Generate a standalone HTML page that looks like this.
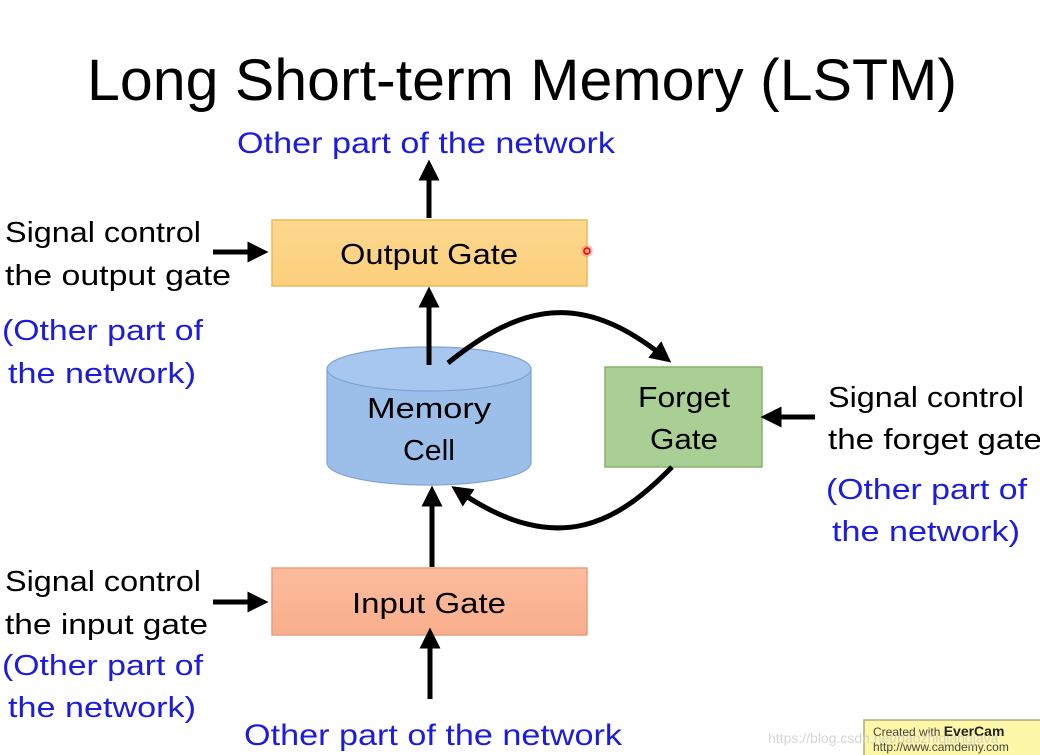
<!DOCTYPE html>
<html><head><meta charset="utf-8"><style>
html,body{margin:0;padding:0;background:#fff;}
svg{display:block;}
text{font-family:"Liberation Sans",sans-serif;}
</style></head><body>
<svg width="1040" height="755" viewBox="0 0 1040 755" xmlns="http://www.w3.org/2000/svg">
<defs>
<marker id="ah" viewBox="0 0 10 10" refX="5" refY="5" markerWidth="4.2" markerHeight="4.2" orient="auto-start-reverse" markerUnits="strokeWidth">
<path d="M0,0 L10,5 L0,10 z" fill="#000"/></marker>
<linearGradient id="og" x1="0" y1="0" x2="0" y2="1"><stop offset="0" stop-color="#fdd88e"/><stop offset="1" stop-color="#fbcf7c"/></linearGradient>
<linearGradient id="ig" x1="0" y1="0" x2="0" y2="1"><stop offset="0" stop-color="#fbbc9d"/><stop offset="1" stop-color="#f8ae8c"/></linearGradient>
</defs>
<text x="87" y="100" font-size="58" textLength="870" lengthAdjust="spacingAndGlyphs" fill="#000">Long Short-term Memory (LSTM)</text>
<text x="237" y="153" font-size="30" textLength="378" lengthAdjust="spacingAndGlyphs" fill="#1c1ce0">Other part of the network</text>

<!-- output gate -->
<rect x="272" y="220" width="315" height="66" fill="url(#og)" stroke="#efb85a" stroke-width="1.5"/>
<text x="429" y="264" font-size="29" text-anchor="middle" textLength="178" lengthAdjust="spacingAndGlyphs">Output Gate</text>
<circle cx="587" cy="251" r="6" fill="#ff6a6a" opacity="0.4"/><circle cx="587" cy="251" r="3" fill="none" stroke="#e00" stroke-width="1.5"/>

<!-- memory cell -->
<path d="M327,369 L327,463 A102,22 0 0 0 531,463 L531,369" fill="#9cbfea" stroke="#7da2d4" stroke-width="1.2"/>
<ellipse cx="429" cy="369" rx="102" ry="22" fill="#a8c7ee" stroke="#7da2d4" stroke-width="1.2"/>
<text x="429" y="418" font-size="29" text-anchor="middle" textLength="124" lengthAdjust="spacingAndGlyphs">Memory</text>
<text x="429" y="460" font-size="29" text-anchor="middle" textLength="52" lengthAdjust="spacingAndGlyphs">Cell</text>

<!-- forget gate -->
<rect x="605" y="367" width="157" height="100" fill="#a9cf95" stroke="#88b26c" stroke-width="1.5"/>
<text x="684" y="407" font-size="29" text-anchor="middle" textLength="92" lengthAdjust="spacingAndGlyphs">Forget</text>
<text x="684" y="449" font-size="29" text-anchor="middle" textLength="68" lengthAdjust="spacingAndGlyphs">Gate</text>

<!-- input gate -->
<rect x="272" y="568" width="315" height="67" fill="url(#ig)" stroke="#e99d7d" stroke-width="1.5"/>
<text x="429" y="613" font-size="29" text-anchor="middle" textLength="154" lengthAdjust="spacingAndGlyphs">Input Gate</text>

<!-- arrows -->
<g stroke="#000" stroke-width="5" fill="none">
<line x1="429" y1="218" x2="429" y2="170" marker-end="url(#ah)"/>
<line x1="429" y1="365" x2="429" y2="297" marker-end="url(#ah)"/>
<line x1="432" y1="567" x2="432" y2="496" marker-end="url(#ah)"/>
<line x1="430" y1="699" x2="430" y2="638" marker-end="url(#ah)"/>
<line x1="213" y1="252" x2="258" y2="252" marker-end="url(#ah)"/>
<line x1="213" y1="602" x2="258" y2="602" marker-end="url(#ah)"/>
<line x1="815" y1="417" x2="771" y2="417" marker-end="url(#ah)"/>
<path d="M448,363 C520,305 580,290 663,356" marker-end="url(#ah)"/>
<path d="M672,467 C620,520 560,560 460,492" marker-end="url(#ah)"/>
</g>

<!-- side labels -->
<g font-size="29">
<text x="5" y="242" textLength="196" lengthAdjust="spacingAndGlyphs">Signal control</text>
<text x="5" y="285" textLength="226" lengthAdjust="spacingAndGlyphs">the output gate</text>
<text x="2" y="340" fill="#1c1ce0" textLength="201" lengthAdjust="spacingAndGlyphs">(Other part of</text>
<text x="8" y="383" fill="#1c1ce0" textLength="188" lengthAdjust="spacingAndGlyphs">the network)</text>
<text x="5" y="591" textLength="196" lengthAdjust="spacingAndGlyphs">Signal control</text>
<text x="5" y="634" textLength="203" lengthAdjust="spacingAndGlyphs">the input gate</text>
<text x="2" y="675" fill="#1c1ce0" textLength="201" lengthAdjust="spacingAndGlyphs">(Other part of</text>
<text x="8" y="717" fill="#1c1ce0" textLength="188" lengthAdjust="spacingAndGlyphs">the network)</text>
<text x="828" y="407" textLength="196" lengthAdjust="spacingAndGlyphs">Signal control</text>
<text x="828" y="449" textLength="214" lengthAdjust="spacingAndGlyphs">the forget gate</text>
<text x="826" y="499" fill="#1c1ce0" textLength="201" lengthAdjust="spacingAndGlyphs">(Other part of</text>
<text x="832" y="541" fill="#1c1ce0" textLength="188" lengthAdjust="spacingAndGlyphs">the network)</text>
</g>
<text x="244" y="745" font-size="30" textLength="378" lengthAdjust="spacingAndGlyphs" fill="#1c1ce0">Other part of the network</text>

<!-- watermark -->
<rect x="864" y="720" width="180" height="40" fill="#fdf7a8" stroke="#b0a880" stroke-width="1.5"/>
<text x="873" y="736" font-size="12" fill="#444">Created with <tspan font-weight="bold" fill="#222" font-size="14">EverCam</tspan></text>
<text x="873" y="751" font-size="12" font-family="Liberation Mono,monospace" fill="#444">http://www.camdemy.com</text>
<text x="768" y="743" font-size="14" fill="#ccc" opacity="0.8">https://blog.csdn.net/baozhiqiangjava</text>
</svg>
</body></html>
